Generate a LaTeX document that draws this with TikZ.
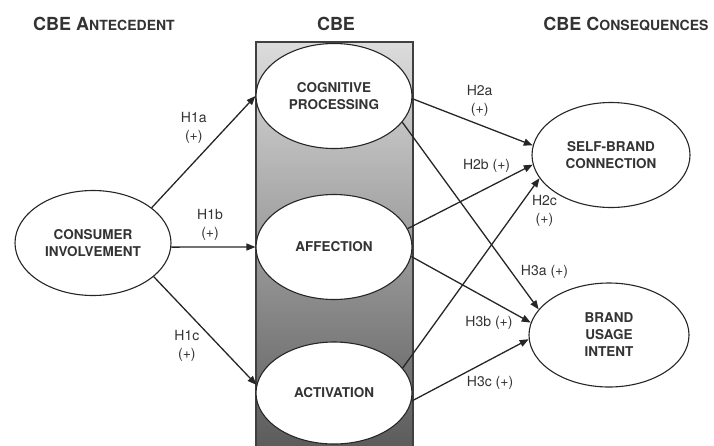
\documentclass[tikz,border=0pt]{standalone}
\usepackage{fontspec}
\setmainfont{TeX Gyre Heros}
\usetikzlibrary{shapes.geometric,arrows.meta,positioning}
\definecolor{inkgray}{HTML}{333333}
\definecolor{boxtop}{HTML}{DCDCDC}
\definecolor{boxmid}{HTML}{B0B0B0}
\definecolor{boxbot}{HTML}{5A5A5A}
\newcommand{\lowcaps}[1]{{\fontsize{14}{16}\selectfont #1}}
\tikzset{
  construct/.style={ellipse, draw=black!85, line width=1.1pt, fill=white,
    minimum width=156pt, minimum height=105pt, inner sep=0pt, align=center,
    text=inkgray, font=\fontsize{13.5}{17}\selectfont\bfseries},
  hyp/.style={line width=1.3pt, draw=black!85, -{Triangle[length=9pt,width=7pt]}},
  hlabel/.style={text=inkgray, font=\fontsize{14}{18}\selectfont, align=center, inner sep=2pt},
  header/.style={text=inkgray, font=\fontsize{18}{20}\selectfont\bfseries, anchor=base}
}

\begin{document}
\begin{tikzpicture}[x=1pt,y=-1pt]
\useasboundingbox (0,0) rectangle (714,445);
\shade[top color=boxtop, middle color=boxmid, bottom color=boxbot, draw=black!75, line width=1.2pt] (256,42) rectangle (413,452);

\node[header] (hdant) at (104,30) {CBE A\lowcaps{NTECEDENT}};
\node[header] (hdcbe) at (336,30) {CBE};
\node[header] (hdcon) at (626,30) {CBE C\lowcaps{ONSEQUENCES}};

\node[construct] (ci) at (93,243) {CONSUMER\\INVOLVEMENT};
\node[construct] (cog) at (334,96) {COGNITIVE\\PROCESSING};
\node[construct] (aff) at (334,247) {AFFECTION};
\node[construct, minimum height=102pt] (act) at (334,393) {ACTIVATION};
\node[construct, minimum width=158pt] (sbc) at (611,155) {SELF-BRAND\\CONNECTION};
\node[construct, minimum width=160pt, minimum height=104pt] (bui) at (609,335) {BRAND\\USAGE\\INTENT};

\draw[hyp] (ci.31.5) to node[hlabel, pos=0.555, anchor=south east] (h1a) {H1a\\(+)} (cog.west);
\draw[hyp] (ci.-3) to node[hlabel, pos=0.46, above=4pt] (h1b) {H1b\\(+)} (aff.west);
\draw[hyp] (ci.-29) to node[hlabel, pos=0.47, anchor=north east] (h1c) {H1c\\(+)} (act.174);
\draw[hyp] (cog.-2) to node[hlabel, pos=0.43, anchor=south west] (h2a) {H2a\\(+)} (sbc.173.5);
\draw[hyp] (aff.14) to node[hlabel, pos=0.84, anchor=south east] (h2b) {H2b (+)} (sbc.187);
\draw[hyp] (act.20) to node[hlabel, pos=0.926, anchor=north west] (h2c) {H2c\\(+)} (sbc.198.4);
\draw[hyp] (cog.-21) to node[hlabel, pos=0.851, anchor=south west] (h3a) {H3a (+)} (bui.160.9);
\draw[hyp] (aff.-7.5) to node[hlabel, pos=0.87, anchor=north east] (h3b) {H3b (+)} (bui.171.4);
\draw[hyp] (act.-6) to node[hlabel, pos=0.45, anchor=north west] (h3c) {H3c (+)} (bui.183.6);
\end{tikzpicture}
\end{document}
